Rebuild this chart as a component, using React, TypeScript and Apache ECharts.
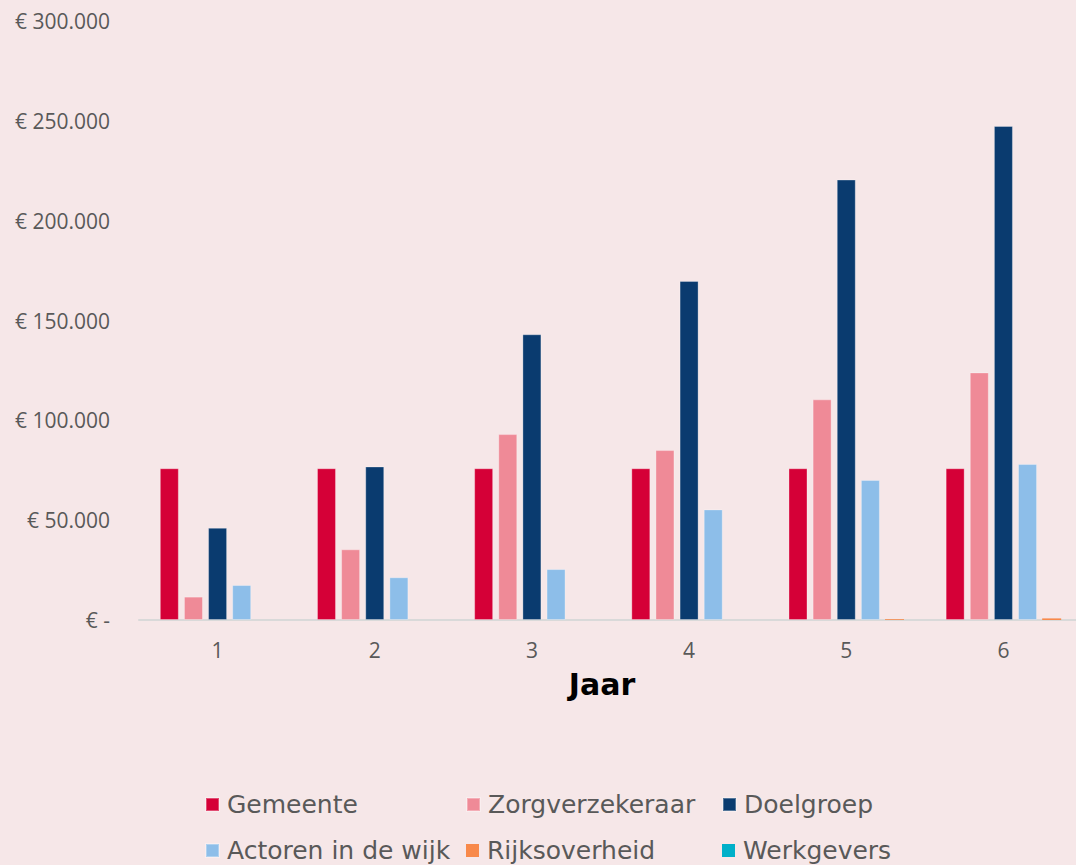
import React, { useEffect, useRef } from "react";
import * as echarts from "echarts";

// Jaarlijkse baten per partij (in euro)
const jaren = ["1", "2", "3", "4", "5", "6"];
const gemeente = [76000, 76000, 76000, 76000, 76000, 76000];
const zorgverzekeraar = [11700, 35400, 93100, 85100, 110500, 124000];
const doelgroep = [46200, 76900, 143100, 169800, 220600, 247400];
const actoren = [17500, 21400, 25500, 55400, 70100, 78100];
const rijksoverheid = [0, 0, 0, 0, 400, 800];
const werkgevers = [0, 0, 0, 0, 0, 0];

const yTicks = { min: 0, max: 300000, interval: 50000 };

const COLORS = {
  gemeente: "#d50037",
  zorg: "#ef8a97",
  doel: "#0a3b6f",
  actoren: "#8dbee9",
  rijk: "#f8894a",
  werk: "#00b0c9",
};

const BG = "#f6e7e8";
const GREY = "#595959";

function euro(v: number): string {
  if (v === 0) return "€ -";
  const s = String(Math.round(v)).replace(/\B(?=(\d{3})+(?!\d))/g, ".");
  return "€ " + s;
}

export default function App() {
  const ref = useRef<HTMLDivElement>(null);

  useEffect(() => {
    if (!ref.current) return;
    const chart = echarts.init(ref.current, undefined, { renderer: "svg" });

    const barStyle = (color: string) => ({
      color,
      borderColor: "rgba(255,255,255,0.3)",
      borderWidth: 1,
    });

    const legendFont = {
      fontFamily: "'DejaVu Sans', sans-serif",
      fontSize: 25,
      color: GREY,
      padding: [0, 0, 0, 3],
    };

    const legendItem = (name: string, left: number, top: number) => ({
      data: [name],
      left,
      top,
      padding: 0,
      icon: "rect",
      itemWidth: 13,
      itemHeight: 13,
      selectedMode: false,
      textStyle: legendFont,
    });

    chart.setOption({
      animation: false,
      backgroundColor: BG,
      title: {
        text: "Jaar",
        left: 602,
        top: 669,
        textAlign: "center",
        padding: 0,
        textStyle: {
          fontFamily: "'DejaVu Sans', sans-serif",
          fontWeight: "bold",
          fontSize: 30,
          color: "#000000",
        },
      },
      legend: [
        legendItem("Gemeente", 205, 792),
        legendItem("Zorgverzekeraar", 466, 792),
        legendItem("Doelgroep", 722, 792),
        legendItem("Actoren in de wijk", 205, 838),
        legendItem("Rijksoverheid", 466, 838),
        legendItem("Werkgevers", 722, 838),
      ],
      grid: { left: 139, right: 0, top: 21, bottom: 245 },
      xAxis: [
        {
          type: "category",
          data: jaren,
          axisLine: { lineStyle: { color: "#d9d9d9", width: 2 } },
          axisTick: { show: false },
          axisLabel: {
            color: GREY,
            fontFamily: "'Open Sans', sans-serif",
            fontSize: 21,
            margin: 19,
          },
        },
        {
          type: "category",
          data: jaren,
          show: false,
        },
      ],
      yAxis: {
        type: "value",
        min: yTicks.min,
        max: yTicks.max,
        interval: yTicks.interval,
        splitLine: { show: false },
        axisLine: { show: false },
        axisTick: { show: false },
        axisLabel: {
          color: GREY,
          fontFamily: "'Open Sans', sans-serif",
          fontSize: 21,
          margin: 29,
          formatter: euro,
        },
      },
      series: [
        { name: "Gemeente", type: "bar", data: gemeente, barWidth: 19, barGap: "27%", itemStyle: barStyle(COLORS.gemeente) },
        { name: "Zorgverzekeraar", type: "bar", data: zorgverzekeraar, barWidth: 19, barGap: "27%", itemStyle: barStyle(COLORS.zorg) },
        { name: "Doelgroep", type: "bar", data: doelgroep, barWidth: 19, barGap: "27%", itemStyle: barStyle(COLORS.doel) },
        { name: "Actoren in de wijk", type: "bar", data: actoren, barWidth: 19, barGap: "27%", itemStyle: barStyle(COLORS.actoren) },
        { name: "Rijksoverheid", type: "bar", data: rijksoverheid, barWidth: 19, barGap: "27%", itemStyle: { color: COLORS.rijk } },
        { name: "Werkgevers", type: "bar", xAxisIndex: 1, data: werkgevers, barWidth: 19, itemStyle: { color: COLORS.werk } },
      ],
    });

    return () => chart.dispose();
  }, []);

  return (
    <div
      style={{
        position: "fixed",
        left: 0,
        top: 0,
        width: 1076,
        height: 865,
        overflow: "hidden",
        background: BG,
      }}
    >
      <div ref={ref} style={{ width: 1082, height: 865 }} />
    </div>
  );
}
